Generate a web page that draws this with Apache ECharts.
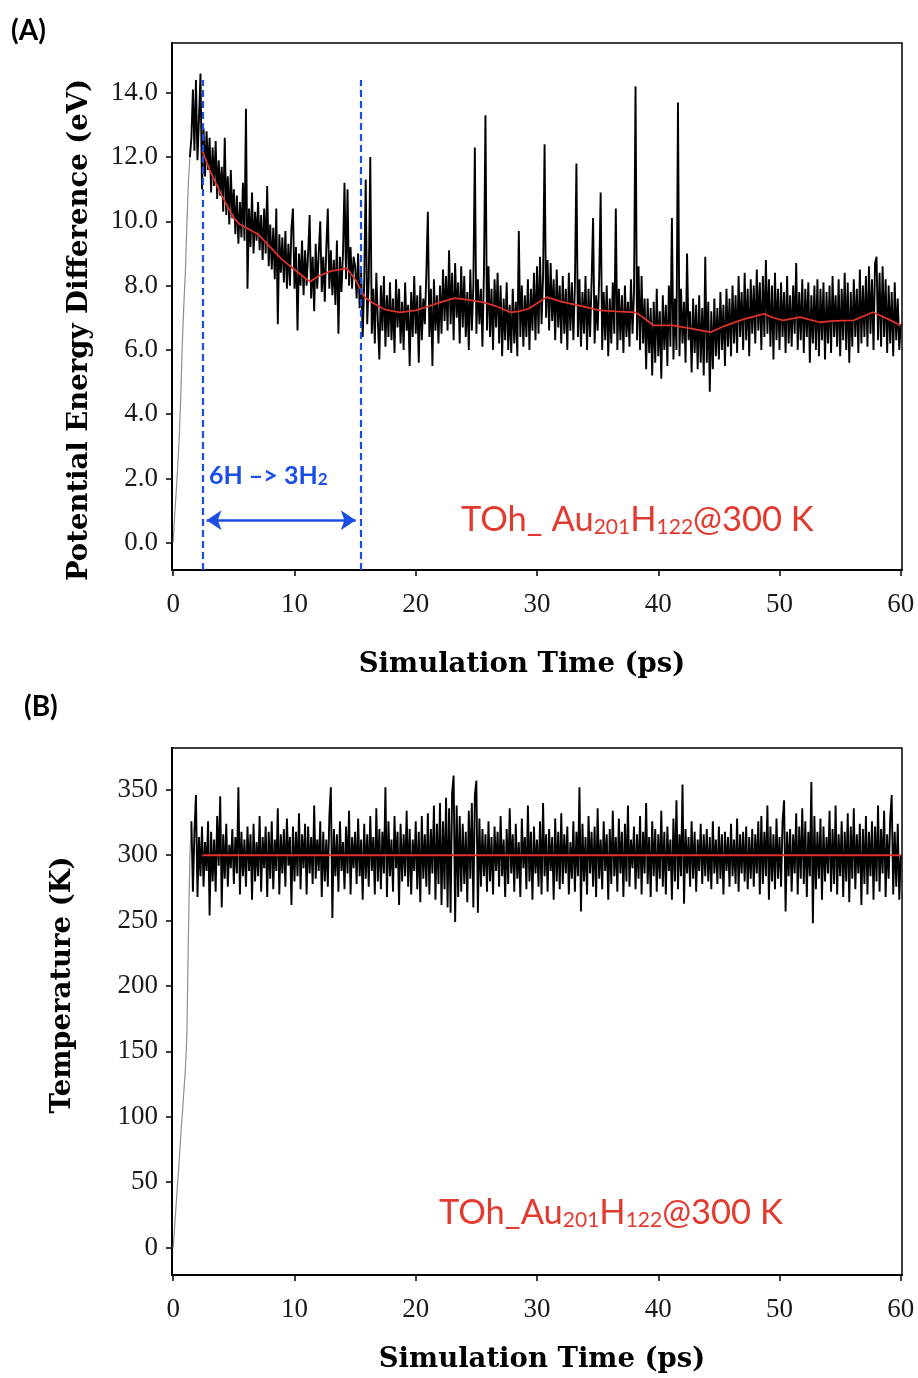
<!DOCTYPE html>
<html><head><meta charset="utf-8">
<script src="https://cdn.jsdelivr.net/npm/echarts@6/dist/echarts.min.js"></script>
<style>html,body{margin:0;padding:0;background:#fff}#c{width:918px;height:1378px}</style>
</head><body><div id="c"></div>
<script>
// sampling step of the traces (ps)
const DT = 0.125;
const xTicks = [0, 10, 20, 30, 40, 50, 60];
const peTicks = [0, 2, 4, 6, 8, 10, 12, 14];
const tempTicks = [0, 50, 100, 150, 200, 250, 300, 350];

// (A) potential energy difference (eV), one row per ps
const peValues = [
 0, 0.9, 1.6, 2.4, 3.3, 4.6, 6.2, 7.4,
 8.4, 9.9, 11.2, 12.0, 12.6, 14.1, 12.2, 14.4,
 11.9, 13.2, 14.6, 11.0, 12.9, 11.4, 12.8, 11.6,
 12.6, 10.9, 12.3, 11.1, 12.5, 10.7, 11.9, 10.8,
 11.7, 10.3, 12.6, 10.2, 11.4, 9.9, 11.6, 10.1,
 11.0, 9.6, 10.8, 9.3, 10.6, 9.5, 11.2, 9.4,
 13.5, 7.9, 10.4, 9.2, 10.9, 9.0, 10.3, 9.4,
 10.6, 9.1, 10.2, 8.8, 10.4, 9.0, 11.1, 8.6,
 9.9, 8.5, 9.8, 8.2, 10.4, 6.8, 9.6, 8.4,
 9.5, 8.1, 9.7, 7.9, 9.3, 8.0, 9.8, 10.4,
 7.9, 9.2, 6.6, 9.0, 8.0, 9.4, 7.7, 9.1,
 8.0, 9.0, 10.2, 7.6, 8.9, 7.2, 9.3, 7.9,
 9.0, 10.0, 7.8, 8.9, 7.5, 9.2, 10.4, 7.9,
 9.1, 7.7, 8.8, 7.4, 9.4, 6.5, 8.9, 7.8,
 9.0, 11.2, 8.2, 11.0, 8.0, 9.2, 7.9, 8.9,
 8.6, 7.6, 9.0, 7.3, 8.4, 6.4, 8.1, 11.3,
 6.8, 8.2, 12.0, 6.5, 7.9, 6.2, 8.4, 6.9,
 5.7, 8.0, 6.6, 8.3, 6.1, 7.7, 6.4, 8.1,
 6.3, 7.6, 5.9, 8.2, 6.7, 7.9, 6.2, 7.5,
 6.0, 8.1, 6.6, 7.4, 5.5, 7.8, 6.4, 8.3,
 6.5, 7.7, 5.6, 8.0, 6.3, 7.6, 6.8, 8.4,
 10.3, 6.4, 7.9, 5.5, 8.2, 6.6, 7.7, 6.2,
 8.0, 6.5, 8.5, 6.9, 8.3, 6.6, 9.1, 6.8,
 8.4, 6.3, 8.7, 7.0, 8.1, 6.2, 8.6, 6.7,
 8.3, 6.4, 7.8, 6.0, 8.5, 6.6, 8.0, 12.3,
 6.5, 8.2, 6.8, 7.9, 6.1, 8.4, 13.3, 6.6,
 8.6, 6.4, 7.9, 6.0, 8.2, 6.7, 8.4, 6.2,
 8.0, 5.8, 7.6, 6.3, 8.1, 6.0, 7.4, 5.9,
 7.9, 6.2, 7.5, 5.8, 9.7, 6.4, 8.0, 6.1,
 7.7, 6.4, 8.2, 6.0, 7.9, 6.6, 8.4, 6.3,
 8.6, 6.5, 8.9, 6.8, 8.3, 12.4, 7.0, 8.8,
 6.6, 8.7, 6.9, 8.2, 6.3, 8.5, 6.7, 8.0,
 6.2, 8.3, 6.5, 7.9, 6.0, 8.4, 6.6, 8.1,
 6.3, 8.0, 11.8, 6.4, 8.2, 6.1, 7.8, 6.5,
 8.3, 6.0, 7.9, 6.4, 8.1, 10.1, 6.2, 7.7,
 6.6, 8.2, 10.9, 6.0, 7.8, 6.3, 8.0, 5.8,
 7.6, 6.2, 8.1, 6.5, 10.4, 6.0, 7.9, 6.3,
 7.7, 5.9, 8.0, 6.4, 7.5, 6.1, 8.2, 6.5,
 7.8, 14.2, 6.3, 8.6, 6.0, 8.3, 6.2, 7.6,
 5.4, 7.6, 5.9, 7.3, 5.2, 7.5, 5.6, 7.9,
 5.8, 7.2, 5.1, 7.7, 6.0, 7.4, 5.5, 8.0,
 6.1, 10.1, 5.7, 7.6, 6.0, 13.7, 5.8, 7.9,
 6.2, 7.5, 5.6, 9.0, 6.3, 7.2, 5.3, 7.6,
 5.9, 7.4, 5.4, 7.7, 5.6, 7.3, 5.2, 8.9,
 5.6, 7.5, 4.7, 7.2, 5.4, 7.6, 5.8, 7.3,
 5.7, 7.8, 6.0, 7.4, 5.5, 7.9, 6.1, 7.6,
 5.8, 8.0, 6.2, 7.7, 5.9, 8.3, 6.4, 7.8,
 6.0, 8.4, 6.3, 7.9, 5.8, 8.2, 6.5, 8.0,
 6.2, 8.5, 6.6, 8.1, 6.0, 8.3, 6.4, 8.8,
 6.5, 8.2, 6.1, 8.0, 5.7, 8.4, 6.3, 7.9,
 6.0, 8.1, 6.4, 7.8, 5.9, 8.3, 6.2, 7.7,
 6.1, 8.0, 6.5, 8.7, 6.0, 7.8, 6.3, 8.2,
 5.9, 7.9, 6.4, 8.1, 5.6, 7.7, 6.2, 8.0,
 6.0, 8.2, 5.8, 7.9, 6.3, 8.1, 5.7, 7.8,
 6.2, 8.0, 5.9, 8.3, 6.4, 7.7, 6.1, 8.2,
 5.8, 7.9, 6.3, 8.4, 6.0, 8.1, 5.6, 7.8,
 6.1, 8.2, 6.4, 7.9, 5.9, 8.5, 6.2, 8.0,
 6.4, 8.3, 6.1, 8.6, 6.5, 8.2, 6.0, 8.7,
 8.9, 6.3, 8.4, 6.1, 8.6, 6.4, 8.2, 5.9,
 8.0, 6.2, 7.8, 5.8, 8.1, 6.3, 7.6, 6.0,
 6.8
];
// number of leading samples forming the grey heating ramp
const peRampCount = 12;

// (A) running average (red)
const peAvgTime = [2.4, 3, 4, 5, 5.5, 6, 7, 8, 9, 10, 11, 11.3, 12, 13, 14.3, 15, 15.8, 16.5, 17.5, 18.7, 20, 21, 22, 23.2, 24.5, 25.6, 26.7, 27.8, 28.5, 29.3, 30.8, 32, 33.5, 35.2, 36.5, 38.1, 38.8, 39.6, 41.2, 42.5, 44.3, 45.5, 47, 48.7, 49.5, 50.3, 51.7, 53.3, 54.5, 56.1, 57.7, 59, 60];
const peAvgValues = [12.2, 11.6, 10.8, 10.1, 9.9, 9.8, 9.6, 9.2, 8.8, 8.5, 8.2, 8.13, 8.3, 8.45, 8.54, 8.2, 7.64, 7.45, 7.25, 7.17, 7.23, 7.35, 7.48, 7.61, 7.55, 7.48, 7.35, 7.17, 7.2, 7.28, 7.64, 7.5, 7.38, 7.23, 7.2, 7.17, 7.0, 6.76, 6.76, 6.68, 6.55, 6.75, 6.95, 7.12, 7.0, 6.92, 7.02, 6.86, 6.9, 6.92, 7.17, 6.95, 6.76];

// (A) annotation: interval of 6H -> 3H2
const markerTimes = [2.4, 15.5];
const markerTop = 14.4;
const arrowSpan = [2.75, 15.05];
const arrowLevel = 0.7;

// (B) temperature (K), one row per ps
const tempValues = [
 0, 17, 34, 51, 68, 85, 102, 119,
 136, 162, 238, 300, 326, 272, 318, 346,
 268, 314, 284, 322, 276, 310, 288, 326,
 254, 318, 280, 312, 272, 330, 292, 345,
 260, 316, 282, 324, 276, 308, 290, 320,
 278, 314, 286, 352, 270, 318, 284, 312,
 276, 322, 288, 316, 266, 324, 280, 310,
 284, 330, 272, 314, 290, 322, 268, 318,
 282, 326, 274, 312, 288, 336, 270, 316,
 286, 320, 276, 328, 292, 314, 262, 322,
 280, 318, 284, 332, 274, 316, 290, 324,
 270, 322, 286, 314, 278, 338, 282, 312,
 288, 326, 268, 318, 280, 312, 276, 330,
 352, 252, 320, 284, 316, 272, 326, 288,
 310, 274, 322, 286, 334, 270, 314, 290,
 318, 278, 328, 284, 312, 266, 324, 282,
 316, 276, 330, 288, 314, 270, 336, 280,
 320, 274, 318, 286, 352, 268, 326, 284,
 312, 272, 330, 290, 318, 262, 324, 280,
 316, 284, 334, 276, 320, 270, 312, 288,
 326, 274, 318, 264, 330, 282, 316, 276,
 332, 270, 320, 286, 338, 266, 324, 278,
 340, 262, 326, 274, 344, 260, 336, 256,
 348, 361, 249, 338, 268, 330, 272, 324,
 278, 318, 264, 334, 282, 340, 260, 346,
 357, 256, 328, 276, 320, 284, 316, 272,
 326, 280, 314, 270, 322, 288, 318, 276,
 330, 284, 312, 268, 320, 278, 336, 286,
 316, 272, 324, 282, 310, 268, 328, 290,
 314, 274, 338, 280, 318, 266, 322, 286,
 312, 276, 326, 270, 340, 284, 316, 272,
 320, 288, 314, 266, 328, 280, 318, 274,
 332, 278, 316, 286, 322, 270, 310, 282,
 326, 272, 318, 284, 352, 257, 324, 280,
 314, 270, 330, 286, 318, 276, 322, 268,
 336, 282, 312, 274, 326, 288, 316, 266,
 320, 278, 334, 284, 314, 272, 328, 286,
 318, 268, 324, 280, 338, 276, 312, 290,
 322, 274, 316, 282, 330, 270, 318, 286,
 340, 278, 314, 268, 326, 284, 320, 272,
 316, 282, 334, 276, 318, 270, 322, 288,
 312, 266, 328, 280, 342, 274, 316, 284,
 354, 263, 320, 286, 314, 276, 326, 282,
 318, 272, 312, 288, 324, 278, 316, 284,
 320, 280, 314, 274, 326, 286, 312, 278,
 322, 282, 316, 270, 318, 288, 314, 276,
 324, 284, 312, 278, 328, 272, 316, 286,
 318, 280, 322, 274, 314, 282, 320, 276,
 316, 286, 326, 270, 330, 278, 318, 284,
 338, 266, 322, 280, 316, 274, 328, 282,
 314, 276, 326, 342, 257, 318, 284, 320,
 272, 316, 286, 332, 270, 322, 282, 336,
 278, 326, 268, 318, 284, 356, 248, 330,
 274, 318, 282, 328, 266, 322, 280, 314,
 286, 334, 272, 320, 278, 338, 270, 316,
 284, 326, 268, 318, 280, 332, 264, 322,
 282, 336, 274, 316, 286, 324, 262, 320,
 278, 330, 270, 318, 284, 326, 266, 322,
 280, 338, 272, 320, 286, 334, 268, 316,
 282, 328, 346, 270, 318, 276, 324, 266,
 300
];
const tempRampCount = 13;
const tempAvgTime = [2.4, 60];
const tempAvgValues = [300, 300];

const BLUE = '#1b4fe4';
const RED = '#e23a2e';
const LINE_RED = '#e0322a';
const RAMP_GREY = '#8e8e8e';

const pePairs = peValues.map((v, i) => [i * DT, v]);
const peAvgPairs = peAvgTime.map((t, i) => [t, peAvgValues[i]]);
const tempPairs = tempValues.map((v, i) => [i * DT, v]);
const tempAvgPairs = tempAvgTime.map((t, i) => [t, tempAvgValues[i]]);

const tickFont = {fontFamily: '"Liberation Serif", serif', fontSize: 27, color: '#1a1a1a'};

function xAx(gi) {
  return {
    type: 'value', gridIndex: gi, min: -0.1, max: 60.1,
    axisLine: {show: true, onZero: false, lineStyle: {color: '#000', width: 2}},
    axisTick: {show: true, customValues: xTicks, length: 6, lineStyle: {color: '#000', width: 1.5}},
    axisLabel: Object.assign({show: true, customValues: xTicks, margin: 21}, tickFont),
    splitLine: {show: false}
  };
}
function yAx(gi, min, max, ticks, fmt) {
  return {
    type: 'value', gridIndex: gi, min: min, max: max,
    axisLine: {show: true, onZero: false, lineStyle: {color: '#000', width: 2}},
    axisTick: {show: true, customValues: ticks, length: 6, lineStyle: {color: '#000', width: 1.5}},
    axisLabel: Object.assign({show: true, customValues: ticks, margin: 14, formatter: fmt}, tickFont),
    splitLine: {show: false}
  };
}
function trace(xi, data, color, width, z) {
  return {type: 'line', xAxisIndex: xi, yAxisIndex: xi, data: data, showSymbol: false, symbol: 'none',
    lineStyle: {color: color, width: width}, z: z, silent: true};
}

const titleFont = 'bold 27.5px "DejaVu Serif", serif';
const panelFont = 'bold 28px Lato, "Open Sans", sans-serif';
const sans = 'Lato, "Open Sans", sans-serif';

const peMain = trace(0, pePairs.slice(peRampCount - 1), '#000', 1.9, 2);
peMain.markLine = {
  silent: true, symbol: 'none', label: {show: false}, animation: false,
  lineStyle: {color: BLUE, type: [7, 4], width: 2.2},
  data: markerTimes.map(t => [{coord: [t, -0.85]}, {coord: [t, markerTop]}])
};
const peAvg = trace(0, peAvgPairs, LINE_RED, 1.8, 3);
peAvg.markLine = {
  silent: true, label: {show: false}, animation: false,
  symbol: ['arrow', 'arrow'], symbolSize: 15,
  lineStyle: {color: BLUE, type: 'solid', width: 2.5},
  data: [[{coord: [arrowSpan[0], arrowLevel]}, {coord: [arrowSpan[1], arrowLevel]}]]
};

const chart = echarts.init(document.getElementById('c'), null, {renderer: 'canvas'});
chart.setOption({
  animation: false,
  backgroundColor: '#fff',
  grid: [
    {left: 172, top: 43, width: 730, height: 527, show: true, borderColor: '#000', borderWidth: 1.5, backgroundColor: 'transparent', outerBoundsMode: 'none', containLabel: false},
    {left: 172, top: 748, width: 730, height: 527, show: true, borderColor: '#000', borderWidth: 1.5, backgroundColor: 'transparent', outerBoundsMode: 'none', containLabel: false}
  ],
  xAxis: [xAx(0), xAx(1)],
  yAxis: [
    yAx(0, -0.85, 15.55, peTicks, v => v.toFixed(1)),
    yAx(1, -21, 382, tempTicks, v => String(v))
  ],
  series: [
    trace(0, pePairs.slice(0, peRampCount), RAMP_GREY, 1.2, 2),
    peMain,
    peAvg,
    trace(1, tempPairs.slice(0, tempRampCount), RAMP_GREY, 1.2, 2),
    trace(1, tempPairs.slice(tempRampCount - 1), '#000', 1.9, 2),
    trace(1, tempAvgPairs, LINE_RED, 2, 3)
  ],
  graphic: [
    {type: 'text', x: 11, y: 31, style: {text: '(A)', font: panelFont, fill: '#000', verticalAlign: 'middle'}},
    {type: 'text', x: 24, y: 707, style: {text: '(B)', font: panelFont, fill: '#000', verticalAlign: 'middle'}},
    {type: 'text', x: 522, y: 665, style: {text: 'Simulation Time (ps)', font: titleFont, fill: '#000', align: 'center', verticalAlign: 'middle'}},
    {type: 'text', x: 542, y: 1360, style: {text: 'Simulation Time (ps)', font: titleFont, fill: '#000', align: 'center', verticalAlign: 'middle'}},
    {type: 'text', x: 80, y: 330, rotation: Math.PI / 2, style: {text: 'Potential Energy Difference (eV)', font: titleFont, fill: '#000', align: 'center', verticalAlign: 'middle'}},
    {type: 'text', x: 63, y: 985, rotation: Math.PI / 2, style: {text: 'Temperature (K)', font: titleFont, fill: '#000', align: 'center', verticalAlign: 'middle'}},
    {type: 'text', x: 209, y: 476, style: {
      text: '{m|6H –> 3H}{s|2}', verticalAlign: 'middle',
      rich: {
        m: {fontFamily: sans, fontWeight: 'bold', fontSize: 25, lineHeight: 25, fill: BLUE, color: BLUE},
        s: {fontFamily: sans, fontWeight: 'bold', fontSize: 17, lineHeight: 6, verticalAlign: 'bottom', fill: BLUE, color: BLUE}
      }
    }},
    {type: 'text', x: 461, y: 520, style: {
      text: '{m|TOh_ Au}{s|201}{m|H}{s|122}{m|@300 K}', verticalAlign: 'middle',
      rich: {
        m: {fontFamily: sans, fontSize: 34.5, lineHeight: 35, fill: RED, color: RED},
        s: {fontFamily: sans, fontSize: 21, lineHeight: 6, verticalAlign: 'bottom', fill: RED, color: RED}
      }
    }},
    {type: 'text', x: 439, y: 1213, style: {
      text: '{m|TOh_Au}{s|201}{m|H}{s|122}{m|@300 K}', verticalAlign: 'middle',
      rich: {
        m: {fontFamily: sans, fontSize: 34.5, lineHeight: 35, fill: RED, color: RED},
        s: {fontFamily: sans, fontSize: 21, lineHeight: 6, verticalAlign: 'bottom', fill: RED, color: RED}
      }
    }}
  ]
});
</script>
</body></html>
